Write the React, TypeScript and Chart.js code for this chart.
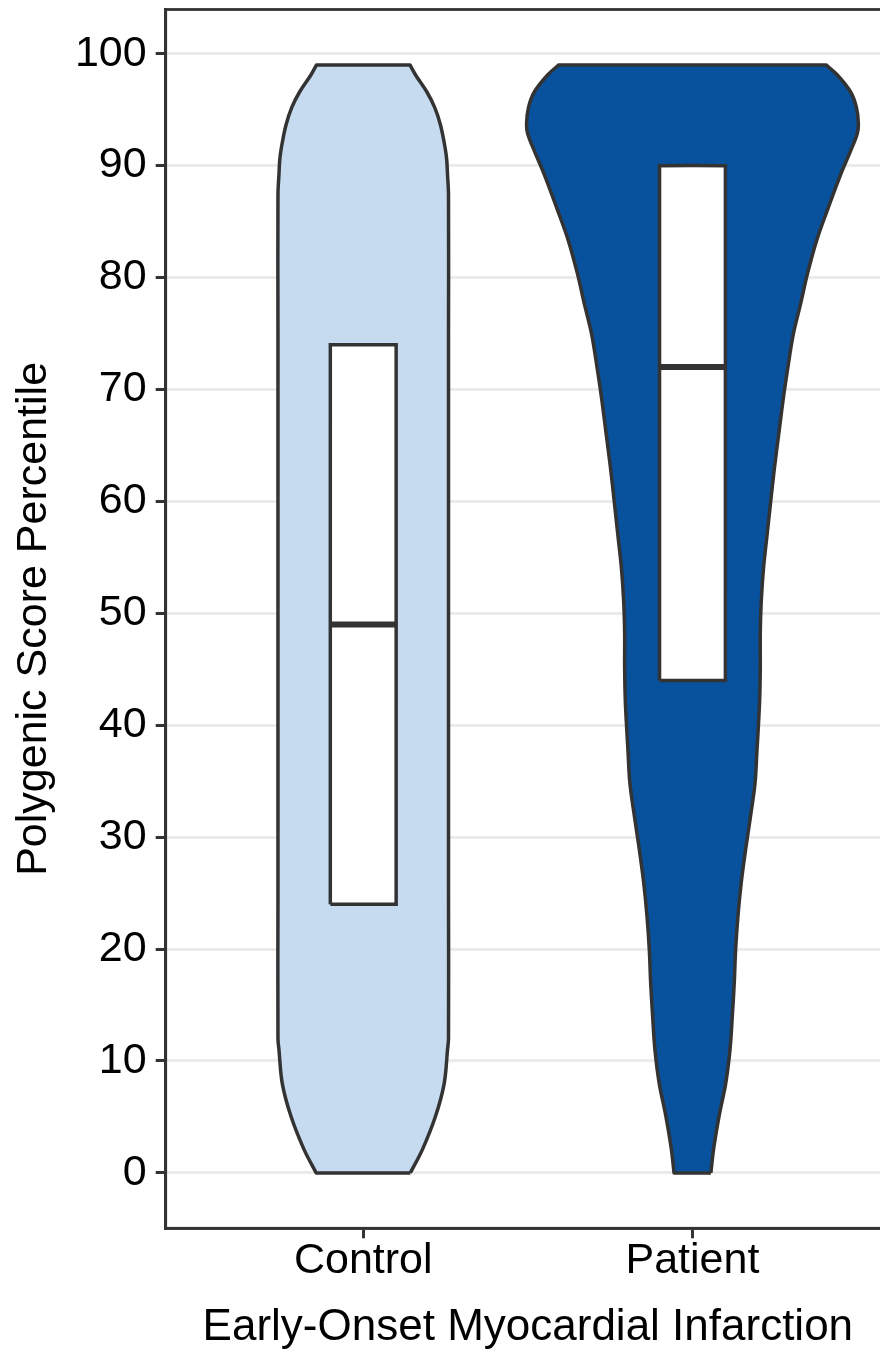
import React, { useEffect, useRef } from "react";
import { Chart, registerables } from "chart.js";

Chart.register(...registerables);

// ---- data ----
const categories = ["Control", "Patient"];
const categoryPositions = [1, 2];
const yTickValues = [0, 10, 20, 30, 40, 50, 60, 70, 80, 90, 100];

// violin outlines: percentile value and density half-width (in category units)
const controlDensityY = [0, 2.1, 5.1, 8.0, 11.0, 12.0, 25, 50, 75, 87.4, 89.2, 90.7, 92.2, 93.7, 95.2, 96.6, 98.1, 99.0];
const controlHalfWidth = [0.143, 0.18, 0.22, 0.246, 0.256, 0.259, 0.259, 0.259, 0.259, 0.259, 0.256, 0.253, 0.245, 0.234, 0.217, 0.193, 0.159, 0.142];

const patientDensityY = [0, 2.1, 5.1, 8.0, 11.0, 14.0, 17.0, 19.9, 22.9, 25.9, 28.8, 31.8, 34.8, 37.8, 39.3, 42.2, 45.2, 48.2, 51.1, 54.1, 57.1, 60.1, 63.0, 66.0, 69.0, 72.0, 74.9, 77.6, 80.3, 83.3, 86.2, 89.2, 91.3, 92.8, 93.7, 95.2, 96.6, 98.1, 99.0];
const patientHalfWidth = [0.056, 0.064, 0.081, 0.101, 0.114, 0.121, 0.127, 0.131, 0.138, 0.148, 0.161, 0.176, 0.19, 0.196, 0.199, 0.204, 0.206, 0.206, 0.209, 0.216, 0.227, 0.238, 0.249, 0.262, 0.275, 0.29, 0.306, 0.328, 0.349, 0.377, 0.412, 0.45, 0.48, 0.5, 0.504, 0.498, 0.48, 0.44, 0.406];

// boxplot statistics
const boxQ1 = [24, 44];
const boxMedian = [49, 72];
const boxQ3 = [74, 90];

const violinColors = ["#C6DBEF", "#08519C"];

// ---- styling ----
const FONT = "'Liberation Sans', Arial, Helvetica, sans-serif";
const INK = "#333333";
const TEXT = "#000000";
const BOX_HALF = 0.1;

function violinPoints(center: number, ys: number[], hws: number[]) {
  const right = ys.map((y, i) => ({ x: center + hws[i], y }));
  const left = ys.map((y, i) => ({ x: center - hws[i], y })).reverse();
  // duplicate the corner points so the smoothed outline keeps sharp corners
  const n = right.length;
  return [
    right[0],
    ...right,
    right[n - 1],
    left[0],
    ...left,
    left[n - 1],
    right[0],
  ];
}

function boxPoints(center: number, q1: number, q3: number) {
  return [
    { x: center - BOX_HALF, y: q1 },
    { x: center + BOX_HALF, y: q1 },
    { x: center + BOX_HALF, y: q3 },
    { x: center - BOX_HALF, y: q3 },
    { x: center - BOX_HALF, y: q1 },
  ];
}

const panelBorder = {
  id: "panelBorder",
  afterDatasetsDraw(chart: any) {
    const { ctx, chartArea: a } = chart;
    ctx.save();
    ctx.strokeStyle = INK;
    ctx.lineWidth = 2.8;
    ctx.strokeRect(a.left, a.top, a.right - a.left, a.bottom - a.top);
    ctx.restore();
  },
};

export default function App() {
  const ref = useRef<HTMLCanvasElement | null>(null);

  useEffect(() => {
    if (!ref.current) return;
    const densities = [
      [controlDensityY, controlHalfWidth],
      [patientDensityY, patientHalfWidth],
    ];
    const common = { pointRadius: 0, pointHoverRadius: 0 };
    const datasets: any[] = [];
    categories.forEach((cat, i) => {
      const c = categoryPositions[i];
      datasets.push({
        ...common,
        label: cat + " violin",
        data: violinPoints(c, densities[i][0], densities[i][1]),
        fill: "shape",
        tension: 0.35,
        backgroundColor: violinColors[i],
        borderColor: INK,
        borderWidth: 3.5,
        borderJoinStyle: "round",
        order: 3,
      });
      datasets.push({
        ...common,
        label: cat + " box",
        data: boxPoints(c, boxQ1[i], boxQ3[i]),
        fill: "shape",
        tension: 0.0001,
        backgroundColor: "#FFFFFF",
        borderColor: INK,
        borderWidth: 3.5,
        order: 2,
      });
      datasets.push({
        ...common,
        label: cat + " median",
        data: [
          { x: c - BOX_HALF, y: boxMedian[i] },
          { x: c + BOX_HALF, y: boxMedian[i] },
        ],
        fill: false,
        borderColor: INK,
        borderWidth: 6,
        order: 1,
      });
    });

    const chart = new Chart(ref.current, {
      type: "line",
      data: { datasets },
      plugins: [panelBorder],
      options: {
        responsive: false,
        animation: false,
        events: [],
        layout: { padding: { left: 0, right: 0, top: 9.5, bottom: 0 } },
        plugins: { legend: { display: false }, tooltip: { enabled: false } },
        scales: {
          x: {
            type: "linear",
            position: "bottom",
            min: 0.4,
            max: 2.6,
            afterBuildTicks: (s: any) => {
              s.ticks = categoryPositions.map((v) => ({ value: v }));
            },
            afterFit: (s: any) => {
              s.height = 124.7;
              s.paddingLeft = 0;
              s.paddingRight = 0;
            },
            ticks: {
              callback: (_v: any, i: number) => categories[i],
              font: { family: FONT, size: 43, lineHeight: 1 },
              color: TEXT,
              padding: 1,
              maxRotation: 0,
              autoSkip: false,
            },
            grid: {
              drawOnChartArea: false,
              drawTicks: true,
              tickLength: 10,
              tickColor: INK,
              tickWidth: 3,
            },
            border: { display: true, color: INK, width: 2.8 },
            title: {
              display: true,
              text: "Early-Onset Myocardial Infarction",
              color: TEXT,
              font: { family: FONT, size: 44, lineHeight: 1 },
              padding: { top: 0, bottom: 3 },
            },
          },
          y: {
            type: "linear",
            min: -4.95,
            max: 103.95,
            afterBuildTicks: (s: any) => {
              s.ticks = yTickValues.map((v) => ({ value: v }));
            },
            afterFit: (s: any) => {
              s.width = 165.7;
              s.paddingTop = 0;
              s.paddingBottom = 0;
            },
            ticks: {
              font: { family: FONT, size: 43, lineHeight: 1 },
              color: TEXT,
              padding: 9,
            },
            grid: {
              color: "#EBEBEB",
              lineWidth: 3,
              drawTicks: true,
              tickLength: 10,
              tickColor: INK,
              tickWidth: 3,
            },
            border: { display: true, color: INK, width: 2.8 },
            title: {
              display: true,
              text: "Polygenic Score Percentile",
              color: TEXT,
              font: { family: FONT, size: 43, lineHeight: 1 },
              padding: { top: 13, bottom: 0 },
            },
          },
        },
      } as any,
    });
    return () => chart.destroy();
  }, []);

  return (
    <div style={{ position: "fixed", left: 0, top: 0, width: 880, height: 1353, overflow: "hidden", background: "#fff" }}>
      <canvas ref={ref} width={890} height={1353} style={{ display: "block" }} />
    </div>
  );
}
